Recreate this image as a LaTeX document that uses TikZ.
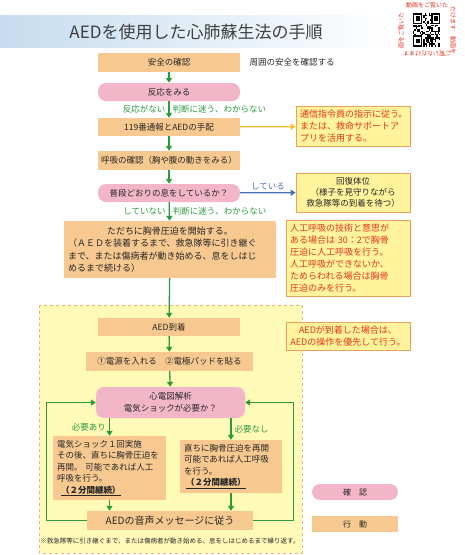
\documentclass[tikz,border=0pt]{standalone}
\usepackage{fontspec}
\setmainfont{Noto Sans CJK JP}
\usetikzlibrary{positioning,arrows.meta}
\definecolor{actfill}{HTML}{F7C991}
\definecolor{chkfill}{HTML}{F2B6C8}
\definecolor{flowgreen}{HTML}{2A9A3C}
\definecolor{noteyellow}{HTML}{FFF39C}
\definecolor{noteline}{HTML}{E9A25A}
\definecolor{notered}{HTML}{E2371F}
\definecolor{areayellow}{HTML}{FFFAB8}
\definecolor{titleblue}{HTML}{C6DCEE}
\definecolor{callyellow}{HTML}{F4C02E}
\definecolor{okblue}{HTML}{4B70B3}
\begin{document}
\begin{tikzpicture}[x=1pt,y=-1pt,>={Triangle[length=5pt,width=6pt]},line join=round,
	act/.style={fill=actfill,minimum height=19pt,inner sep=1pt,text=black!85,font=\fontsize{8.5}{11}\selectfont},
	chk/.style={act,fill=chkfill,rounded corners=8pt},
	note/.style={fill=noteyellow,draw=noteline,line width=0.6pt,text=notered,align=left,inner sep=4pt,font=\fontsize{9}{12}\selectfont},
	flow/.style={->,draw=flowgreen,line width=1.3pt},
	lbl/.style={text=flowgreen,font=\fontsize{8.5}{10}\selectfont,inner sep=3pt},
	qrtxt/.style={text=notered,font=\fontsize{6}{6}\selectfont,inner sep=0pt}]
	\useasboundingbox (0,0) rectangle (465,555);
	\shade[left color=titleblue,right color=white] (0,15) rectangle (392,47);
	\node[font=\fontsize{17}{20}\selectfont,text=black!75] (title) at (196,32) {AEDを使用した心肺蘇生法の手順};
	\pgfmathsetseed{11}
	\foreach \i in {0,...,20}{
		\foreach \j in {0,...,20}{
			\pgfmathsetmacro\r{rnd}
			\ifdim\r pt<0.5pt \fill (413+\i*1.3,13+\j*1.6) rectangle ++(1.3,1.6);\fi
		}
	}
	\foreach \p in {(413,13),(431.2,13),(413,35.4)}{
		\fill[white] \p ++(-0.6,-0.6) rectangle ++(10.3,12.4);
		\fill \p rectangle ++(9.1,11.2);
		\fill[white] \p ++(1.3,1.6) rectangle ++(6.5,8);
		\fill \p ++(2.6,3.2) rectangle ++(3.9,4.8);
	}
	\node[qrtxt] (qrtop) at (427,5) {動画をご覧いた};
	\node[qrtxt,rotate=-90] (qrright) at (453,30) {だけます　動画を};
	\node[qrtxt,rotate=180] (qrbottom) at (427,54) {ご覧いただけます};
	\node[qrtxt,rotate=90] (qrleft) at (401,30) {画をご覧いた};
	\draw[fill=areayellow,draw=noteline!80,dashed,line width=0.6pt] (39,305) rectangle (302,553);
	\node[act,minimum width=142pt] (safe) at (169,62.5) {安全の確認};
	\node[right=6pt of safe,font=\fontsize{8.5}{10}\selectfont,text=black!85] (around) {周囲の安全を確認する};
	\node[chk,minimum width=142pt,minimum height=18pt] (react) at (169,92) {反応をみる};
	\node[act,minimum width=142pt,minimum height=18pt] (call) at (169,127) {119番通報とAEDの手配};
	\node[note,text width=106pt] (callnote) at (353,126.5) {通信指令員の指示に従う。\\または、救命サポートア\\プリを活用する。};
	\node[act,minimum width=142pt] (breath) at (169,160.5) {呼吸の確認（胸や腹の動きをみる）};
	\node[chk,minimum width=142pt,minimum height=18pt] (normal) at (169,193) {普段どおりの息をしているか？};
	\node[note,text=black!85,align=center,minimum width=114pt,minimum height=39pt,inner sep=2pt,font=\fontsize{8.5}{11}\selectfont] (recover) at (353,192.5) {回復体位\\（様子を見守りながら\\救急隊等の到着を待つ）};
	\node[act,text width=204pt,minimum height=57pt,inner sep=4pt,align=left,font=\fontsize{9}{12.5}\selectfont] (cpr) at (170,249.5) {\hfill ただちに胸骨圧迫を開始する。\hfill\null\\（ＡＥＤを装着するまで、救急隊等に引き継ぐ\\まで、または傷病者が動き始める、息をしはじ\\めるまで続ける）};
	\node[note,text width=116pt,minimum height=75pt] (breathnote) at (348,258.5) {人工呼吸の技術と意思が\\ある場合は 30：2で胸骨\\圧迫に人工呼吸を行う。\\人工呼吸ができないか、\\ためらわれる場合は胸骨\\圧迫のみを行う。};
	\node[act,minimum width=142pt,minimum height=18pt] (aed) at (169,327) {AED到着};
	\node[note,align=center,minimum width=124pt,minimum height=28pt,inner sep=2pt] (aednote) at (348,336) {AEDが到着した場合は、\\AEDの操作を優先して行う。};
	\node[act,minimum width=167pt] (pads) at (169.5,361.5) {①電源を入れる　②電極パッドを貼る};
	\node[chk,minimum width=149pt,minimum height=31pt,align=center,font=\fontsize{8.5}{12}\selectfont] (ecg) at (170.5,402.5) {心電図解析\\電気ショックが必要か？};
	\node[act,text width=105pt,minimum height=64pt,inner sep=4pt,align=left,font=\fontsize{8.5}{11.5}\selectfont] (shock) at (109.5,468) {電気ショック１回実施\\その後、直ちに胸骨圧迫を\\再開。 可能であれば人工\\呼吸を行う。\\\hspace*{4pt}\underline{\bfseries（２分間継続）}};
	\node[act,text width=94pt,minimum height=53pt,inner sep=4pt,align=left,font=\fontsize{8.5}{11.5}\selectfont] (noshock) at (231,466.5) {直ちに胸骨圧迫を再開\\可能であれば人工呼吸\\を行う。\\\hspace*{2pt}\underline{\bfseries（２分間継続）}};
	\node[act,minimum width=166pt,font=\fontsize{10}{12}\selectfont] (voice) at (170,520.5) {AEDの音声メッセージに従う};
	\node[font=\fontsize{6.5}{8}\selectfont,text=black!85,inner sep=0pt] (repeat) at (170,541) {※救急隊等に引き継ぐまで、または傷病者が動き始める、息をしはじめるまで繰り返す。};
	\node[chk,minimum width=86pt,minimum height=16pt,font=\fontsize{8}{10}\selectfont] (lchk) at (355,492) {確　認};
	\node[act,minimum width=86pt,minimum height=16pt,font=\fontsize{8}{10}\selectfont] (lact) at (355,524) {行　動};
	\draw[flow] (safe) -- (react);
	\draw[flow] (react) -- (call) node[lbl,midway,left] {反応がない} node[lbl,midway,right] {判断に迷う、わからない};
	\draw[->,draw=callyellow,fill=callyellow,line width=1.3pt] (call) -- (callnote);
	\draw[flow] (call) -- (breath);
	\draw[flow] (breath) -- (normal);
	\draw[->,draw=okblue,line width=1.3pt] (normal) -- (recover) node[midway,above,text=okblue,font=\fontsize{8.5}{10}\selectfont,inner sep=2pt] {している};
	\draw[flow] (normal) -- (cpr) node[lbl,midway,left] {していない} node[lbl,midway,right] {判断に迷う、わからない};
	\draw[flow] (cpr) -- (aed);
	\draw[flow] (aed) -- (pads);
	\draw[flow] (pads) -- (ecg);
	\draw[flow] (shock.north |- ecg.south) -- (shock.north) node[lbl,midway,left] {必要あり};
	\draw[flow] (noshock.north |- ecg.south) -- (noshock.north) node[lbl,midway,right] {必要なし};
	\draw[flow] (shock.south) -- (shock.south |- voice.north);
	\draw[flow] (noshock.south) -- (noshock.south |- voice.north);
	\draw[flow] (voice.west) -- ++(-40,0) |- (ecg.west);
	\draw[flow] (voice.east) -- ++(40,0) |- (ecg.east);
\end{tikzpicture}
\end{document}
